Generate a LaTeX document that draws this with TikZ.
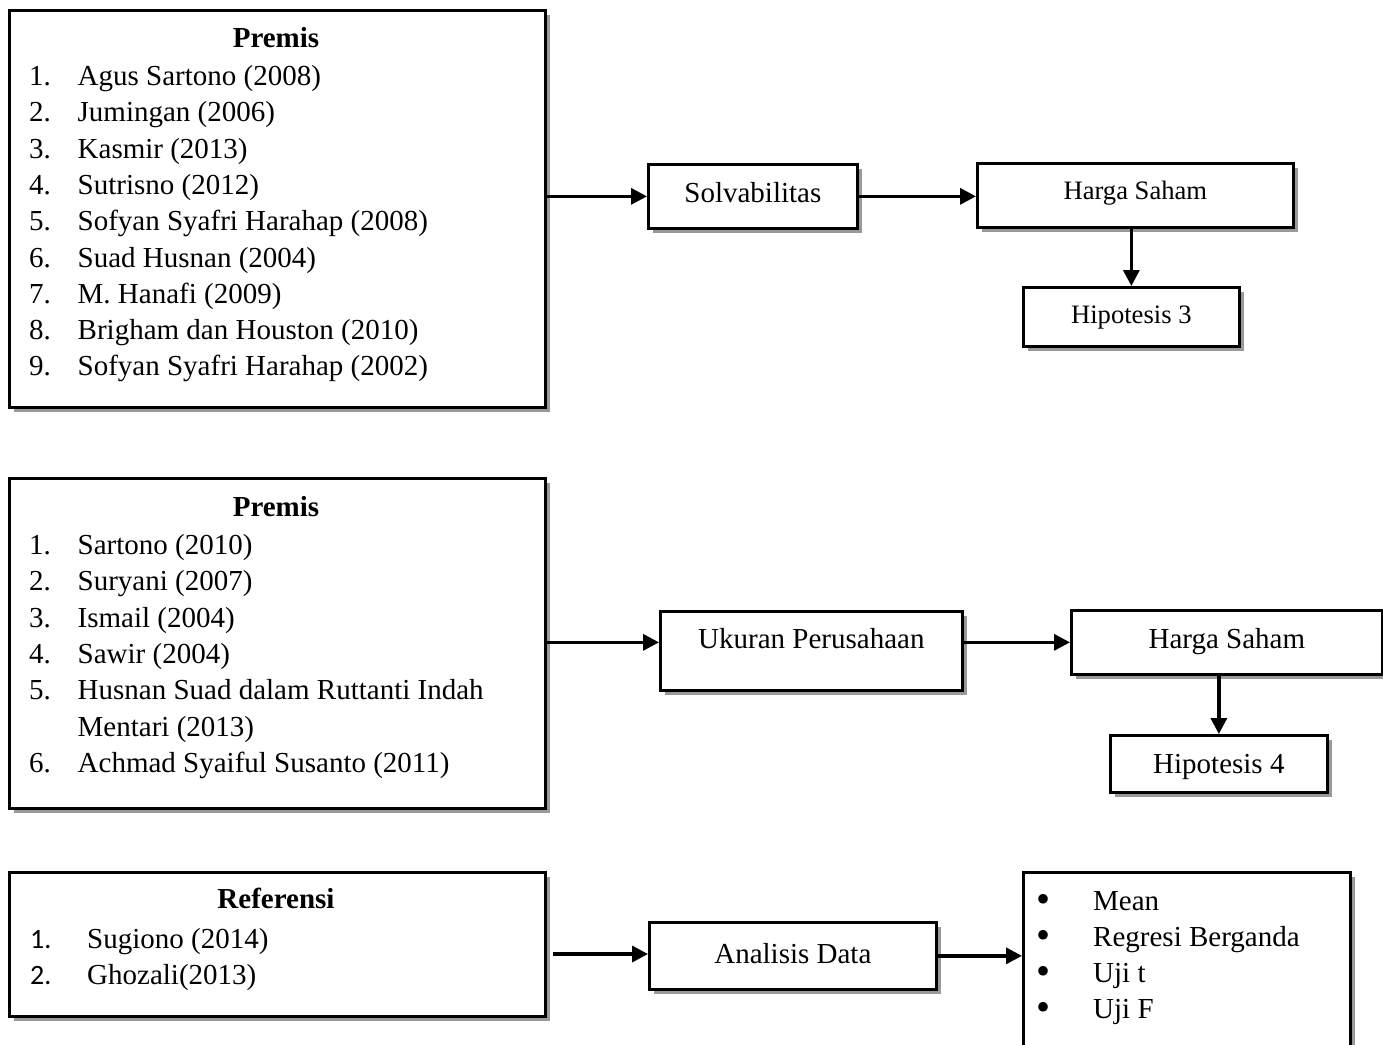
\documentclass[tikz,border=0pt]{standalone}
\usepackage{fontspec}
\setmainfont{Liberation Serif}
\newfontfamily\calibrifont{Carlito}
\usetikzlibrary{arrows.meta,shadows}
\begin{document}
\begin{tikzpicture}[x=1pt,y=-1pt,
  box/.style={draw, line width=2.7pt, fill=white, inner sep=0pt, anchor=north west,
    drop shadow={shadow xshift=5pt,shadow yshift=-5pt,fill=black!40,opacity=1}},
  big/.style={font=\fontsize{29}{35}\selectfont},
  small/.style={font=\fontsize{26.6}{32}\selectfont},
  txt/.style={big, inner sep=0pt, anchor=base west},
  ttl/.style={font=\fontsize{29}{35}\selectfont\bfseries, inner sep=0pt, anchor=base},
  arr/.style={line width=3.4pt, -{Triangle[length=16pt,width=16pt]}},
]
\path[use as bounding box, clip] (0,0) rectangle (1383,1044);

% ---------- row 1 ----------
\node[box, minimum width=536pt, minimum height=397pt] (premisA) at (8,9) {};
\node[ttl] (premisAtitle) at (276,47) {Premis};
\foreach \t [count=\i] in {Agus Sartono (2008), Jumingan (2006), Kasmir (2013),
  Sutrisno (2012), Sofyan Syafri Harahap (2008), Suad Husnan (2004),
  M. Hanafi (2009), Brigham dan Houston (2010), Sofyan Syafri Harahap (2002)} {
  \node[txt] (pan\i) at (29,{85.5+36.3*(\i-1)}) {\i.};
  \node[txt] (pat\i) at (77.5,{85.5+36.3*(\i-1)}) {\t};
}
\node[box, big, minimum width=209pt, text height=38pt, text depth=26pt] (solv) at (647,163) {Solvabilitas};
\node[box, small, minimum width=316pt, text height=36pt, text depth=28pt] (harga1) at (976,162) {Harga Saham};
\node[box, small, minimum width=216pt, text height=36pt, text depth=23pt] (hip3) at (1022,286) {Hipotesis 3};

\draw[arr] (premisA.east |- solv.west) -- (solv.west);
\draw[arr] (solv.east) -- (solv.east -| harga1.west);
\draw[arr] (harga1.south -| hip3.north) -- (hip3.north);

% ---------- row 2 ----------
\node[box, minimum width=536pt, minimum height=330pt] (premisB) at (8,477) {};
\node[ttl] (premisBtitle) at (276,516) {Premis};
\foreach \t [count=\i] in {Sartono (2010), Suryani (2007), Ismail (2004), Sawir (2004)} {
  \node[txt] (pbn\i) at (29,{554.5+36.3*(\i-1)}) {\i.};
  \node[txt] (pbt\i) at (77.5,{554.5+36.3*(\i-1)}) {\t};
}
\node[txt] (pbn5) at (29,699.7) {5.};
\node[txt] (pbt5) at (77.5,699.7) {Husnan Suad dalam Ruttanti Indah};
\node[txt] (pbt5b) at (77.5,736) {Mentari (2013)};
\node[txt] (pbn6) at (29,772.3) {6.};
\node[txt] (pbt6) at (77.5,772.3) {Achmad Syaiful Susanto (2011)};

\node[box, big, minimum width=302pt, text height=37pt, text depth=42pt] (ukuran) at (659,610) {Ukuran Perusahaan};
\node[box, big, minimum width=311pt, text height=38pt, text depth=26pt] (harga2) at (1070,609) {Harga Saham};
\node[box, big, minimum width=217pt, text height=38pt, text depth=19pt] (hip4) at (1109,734) {Hipotesis 4};

\draw[arr] (premisB.east |- harga2.west) -- (ukuran.west |- harga2.west);
\draw[arr] (ukuran.east |- harga2.west) -- (harga2.west);
\draw[arr] (harga2.south -| hip4.north) -- (hip4.north);

% ---------- row 3 ----------
\node[box, minimum width=536pt, minimum height=144pt] (ref) at (8,871) {};
\node[ttl] (reftitle) at (276,908.5) {Referensi};
\node[txt, font=\fontsize{28}{35}\calibrifont] (refn1) at (30,948) {1.};
\node[txt] (reft1) at (87,948) {Sugiono (2014)};
\node[txt, font=\fontsize{28}{35}\calibrifont] (refn2) at (30,984) {2.};
\node[txt] (reft2) at (87,984) {Ghozali(2013)};

\node[box, big, minimum width=287pt, text height=41pt, text depth=26pt] (analisis) at (648,921) {Analisis Data};
\node[box, minimum width=327pt, minimum height=200pt] (bullets) at (1022,871) {};
\foreach \t [count=\i] in {Mean, Regresi Berganda, Uji t, Uji F} {
  \node[txt, font=\fontsize{40}{40}\selectfont] (bb\i) at (1036,{912+36.3*(\i-1)}) {\textbullet};
  \node[txt] (bt\i) at (1093,{910+36.3*(\i-1)}) {\t};
}

\coordinate (refout) at (553,954);
\draw[arr] (refout) -- (refout -| analisis.west);
\draw[arr] (analisis.east) -- (analisis.east -| bullets.west);
\end{tikzpicture}
\end{document}
